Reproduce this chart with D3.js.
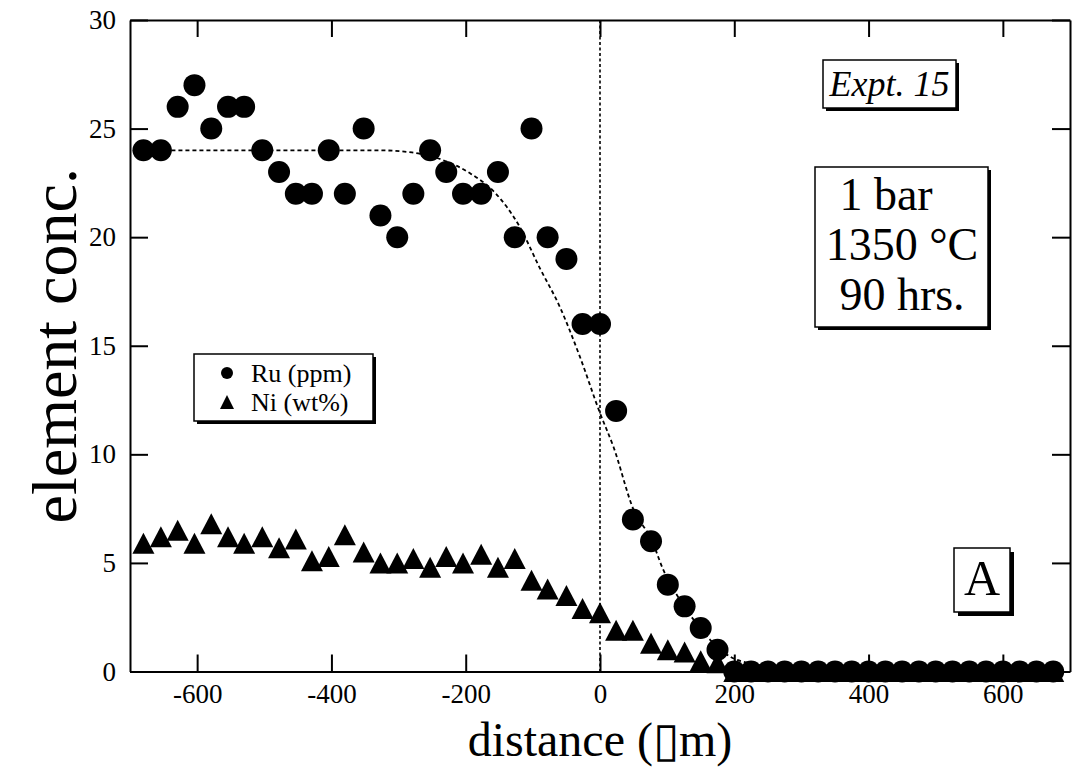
<!DOCTYPE html>
<html>
<head>
<meta charset="utf-8">
<script src="https://cdn.jsdelivr.net/npm/d3@7"></script>
<style>
  html, body { margin: 0; padding: 0; background: #fff; }
  svg { display: block; }
  text { font-family: "Liberation Serif", "Times New Roman", serif; fill: #000; }
</style>
</head>
<body>
<svg id="chart" width="1073" height="771"></svg>
<script>
// Measured profile across the interface (distance in micrometres)
const distance = [-680,-654,-629,-604,-579,-554,-530,-503,-478,-453,-429,-404,-380,-352,-327,-302,-278,-253,-229,-204,
  -177,-152,-127,-102,-78,-50,-26,0,24,49,76,101,126,150,175,
  200,225,250,275,300,325,350,375,400,425,450,475,500,525,550,575,600,625,650,675];

// Ru concentration (ppm)
const ru = [24,24,26,27,25,26,26,24,23,22,22,24,22,25,21,20,22,24,23,22,
  22,23,20,25,20,19,16,16,12,7,6,4,3,2,1,
  0,0,0,0,0,0,0,0,0,0,0,0,0,0,0,0,0,0,0,0];

// Ni concentration (wt%)
const ni = [5.9,6.2,6.5,5.9,6.8,6.2,5.9,6.2,5.7,6.1,5.1,5.3,6.3,5.5,5.0,5.0,5.2,4.8,5.3,5.0,
  5.4,4.8,5.2,4.2,3.8,3.5,2.9,2.7,1.9,1.9,1.3,1.0,0.9,0.5,0.4,
  0,0,0,0,0,0,0,0,0,0,0,0,0,0,0,0,0,0,0,0];

// Diffusion fit through the Ru profile
const fitDistance = [-680,-400,-330,-280,-234,-194,-155,-120,-90,-60,-30,0,20,50,77,94,119,144,169,193,228,260,300,400,500,600,680];
const fitRu       = [24,24,24,23.9,23.55,22.95,22.0,20.5,18.6,16.8,14.5,11.9,10.35,7.45,6.05,4.7,3.3,2.2,1.3,0.7,0.35,0.2,0.1,0,0,0,0];

const xTicks = [-600,-400,-200,0,200,400,600];
const yTicks = [0,5,10,15,20,25,30];
const interfaceAt = 0;

const seriesNames = ["Ru (ppm)", "Ni (wt%)"];
const infoLines = ["1 bar", "1350 °C", "90 hrs."];
const exptLabel = "Expt. 15";
const panelLabel = "A";

const svg = d3.select("#chart");
const x = d3.scaleLinear().domain([-700, 700]).range([130, 1070]);
const y = d3.scaleLinear().domain([0, 30]).range([671.5, 20]);

const TICK_FONT = "27px";
const plain = d => String(d);   // keep an ASCII hyphen for negatives

// frame axes
function styleAxis(g) {
  g.selectAll("path.domain").attr("stroke", "#000").attr("stroke-width", 2);
  g.selectAll(".tick line").attr("stroke", "#000").attr("stroke-width", 2);
  g.selectAll(".tick text").style("font-size", TICK_FONT).style("font-family", '"Liberation Serif", "Times New Roman", serif').attr("fill", "#000");
}
svg.append("g").attr("transform", `translate(0,${y(0)})`)
  .call(d3.axisBottom(x).tickValues(xTicks).tickSizeInner(-17).tickSizeOuter(0).tickPadding(12).tickFormat(plain))
  .call(styleAxis);
svg.append("g").attr("transform", `translate(0,${y(30)})`)
  .call(d3.axisTop(x).tickValues(xTicks).tickSizeInner(-17).tickSizeOuter(0).tickFormat(""))
  .call(styleAxis);
svg.append("g").attr("transform", `translate(${x(-700)},0)`)
  .call(d3.axisLeft(y).tickValues(yTicks).tickSizeInner(-18).tickSizeOuter(0).tickPadding(14).tickFormat(plain))
  .call(styleAxis);
svg.append("g").attr("transform", `translate(${x(700)},0)`)
  .call(d3.axisRight(y).tickValues(yTicks).tickSizeInner(-18).tickSizeOuter(0).tickFormat(""))
  .call(styleAxis);

// interface marker
svg.append("line")
  .attr("x1", x(interfaceAt)).attr("x2", x(interfaceAt))
  .attr("y1", y(30)).attr("y2", y(0))
  .attr("stroke", "#000").attr("stroke-width", 1.6).attr("stroke-dasharray", "3,2.5");

// fit curve
const fitPts = fitDistance.map((d, i) => [d, fitRu[i]]);
svg.append("path")
  .datum(fitPts)
  .attr("fill", "none").attr("stroke", "#000").attr("stroke-width", 1.8)
  .attr("stroke-dasharray", "4,3")
  .attr("d", d3.line().x(d => x(d[0])).y(d => y(d[1])).curve(d3.curveMonotoneX));

// marker shapes
function triPath(cx, cy, w, h) {
  return `M${cx},${cy - h / 2}L${cx + w / 2},${cy + h / 2}L${cx - w / 2},${cy + h / 2}Z`;
}

const niPts = distance.map((d, i) => ({ d, v: ni[i] }));
const ruPts = distance.map((d, i) => ({ d, v: ru[i] }));

svg.append("g").selectAll("path").data(niPts).join("path")
  .attr("d", p => triPath(x(p.d), y(p.v), 22, 21))
  .attr("fill", "#000");

svg.append("g").selectAll("circle").data(ruPts).join("circle")
  .attr("cx", p => x(p.d)).attr("cy", p => y(p.v)).attr("r", 11)
  .attr("fill", "#000");

// boxed labels with drop shadow
function shadowBox(x0, y0, w, h, off) {
  svg.append("rect").attr("x", x0 + off).attr("y", y0 + off).attr("width", w).attr("height", h).attr("fill", "#000");
  svg.append("rect").attr("x", x0).attr("y", y0).attr("width", w).attr("height", h)
    .attr("fill", "#fff").attr("stroke", "#000").attr("stroke-width", 1.5);
}

// legend
shadowBox(194, 354, 179, 67, 3);
const leg = svg.append("g").selectAll("g").data(seriesNames).join("g")
  .attr("transform", (d, i) => `translate(227,${373 + i * 29})`);
leg.each(function (d, i) {
  const g = d3.select(this);
  if (i === 0) g.append("circle").attr("r", 6).attr("fill", "#000");
  else g.append("path").attr("d", triPath(0, 0, 14, 14)).attr("fill", "#000");
  g.append("text").attr("x", 24).attr("y", 9).style("font-size", "26px").text(d);
});

// experiment tag
shadowBox(823, 60, 133, 48, 3);
svg.append("text").attr("x", 889.5).attr("y", 96).attr("text-anchor", "middle")
  .style("font-size", "36px").style("font-style", "italic").text(exptLabel);

// run conditions
shadowBox(815, 167, 173, 160, 3);
svg.append("g").selectAll("text").data(infoLines).join("text")
  .attr("x", (d, i) => i === 0 ? 886 : 902)
  .attr("y", (d, i) => 210 + i * 50)
  .attr("text-anchor", "middle")
  .style("font-size", "46px")
  .text(d => d);

// panel letter
shadowBox(954, 548, 56, 64, 4);
svg.append("text").attr("x", 982).attr("y", 595).attr("text-anchor", "middle")
  .style("font-size", "50px").text(panelLabel);

// axis titles
svg.append("text").attr("x", x(0)).attr("y", 756).attr("text-anchor", "middle")
  .style("font-size", "48px").text("distance (\u25AFm)");
svg.append("text").attr("transform", `translate(76,${(y(0) + y(30)) / 2}) rotate(-90)`)
  .attr("text-anchor", "middle").style("font-size", "64px").text("element conc.");
</script>
</body>
</html>
